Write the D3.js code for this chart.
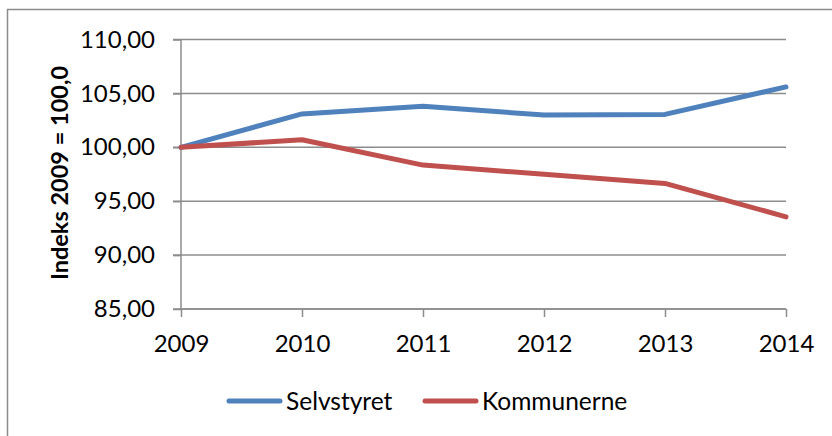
<!DOCTYPE html>
<meta charset="utf-8">
<head>
<style>
  body { margin: 0; background: #fff; }
  svg { display: block; }
  .tick text { font-family: Lato, "Open Sans", sans-serif; font-size: 24px; fill: #000; }
  .legend text { font-family: Lato, "Open Sans", sans-serif; font-size: 24.5px; fill: #000; }
  .ytitle { font-family: Lato, "Open Sans", sans-serif; font-size: 23.5px; font-weight: bold; }
</style>
</head>
<body>
<div id="chart"></div>
<script src="https://d3js.org/d3.v7.min.js"></script>
<script>
 // data
 var years = ["2009", "2010", "2011", "2012", "2013", "2014"];
 var selvstyret = [100.0, 103.1, 103.8, 103.0, 103.05, 105.6];
 var kommunerne = [100.0, 100.7, 98.35, 97.5, 96.65, 93.55];
 var yTicks = [85, 90, 95, 100, 105, 110];
 var seriesNames = ["Selvstyret", "Kommunerne"];
 var seriesColors = ["#4F81BD", "#C0504D"];

 var width = 832, height = 436;
 var plot = {left: 181, right: 786, top: 39.5, bottom: 309};

 var svg = d3.select("#chart").append("svg")
             .attr("width", width)
             .attr("height", height);

 // outer chart frame (runs off the bottom/right of the picture)
 svg.append("rect")
    .attr("x", 7.5).attr("y", 9.5)
    .attr("width", 900).attr("height", 500)
    .attr("fill", "none")
    .attr("stroke", "#8c8c8c")
    .attr("stroke-width", 1.5);

 var x = d3.scalePoint().domain(years).range([plot.left, plot.right]);
 var y = d3.scaleLinear().domain([85, 110]).range([plot.bottom, plot.top]);

 // gridlines
 svg.append("g")
    .selectAll("line")
    .data(yTicks)
    .join("line")
    .attr("x1", plot.left - 8)
    .attr("x2", plot.right)
    .attr("y1", d => y(d))
    .attr("y2", d => y(d))
    .attr("stroke", "#8c8c8c")
    .attr("stroke-width", 1.5);

 const fmt = d => d.toFixed(2).replace(".", ",");

 let yAxis = svg.append("g")
    .attr("transform", `translate(${plot.left},0)`)
    .call(d3.axisLeft(y).tickValues(yTicks).tickFormat(fmt).tickSize(8).tickPadding(18));
 yAxis.selectAll("line, path").attr("stroke", "#8c8c8c").attr("stroke-width", 1.5);
 yAxis.select(".domain").attr("d", `M0,${plot.top}V${plot.bottom}`);

 let xAxis = svg.append("g")
    .attr("transform", `translate(0,${plot.bottom})`)
    .call(d3.axisBottom(x).tickSize(8));
 xAxis.selectAll("line, path").attr("stroke", "#8c8c8c").attr("stroke-width", 1.5);
 xAxis.select(".domain").attr("d", `M${plot.left},0H${plot.right}`);
 xAxis.selectAll(".tick text").attr("y", 43).attr("dy", 0);

 svg.append("text")
    .attr("class", "ytitle")
    .attr("transform", `translate(68,173) rotate(-90)`)
    .attr("text-anchor", "middle")
    .text("Indeks 2009 = 100,0");

 var line = d3.line()
              .x((d, i) => x(years[i]))
              .y(d => y(d));

 [selvstyret, kommunerne].forEach(function(s, i) {
     svg.append("path")
        .datum(s)
        .attr("d", line)
        .attr("fill", "none")
        .attr("stroke", seriesColors[i])
        .attr("stroke-width", 5)
        .attr("stroke-linejoin", "round")
        .attr("stroke-linecap", "round");
 });

 // legend
 var legendX = [229, 425];
 var lg = svg.append("g").attr("class", "legend");
 seriesNames.forEach(function(name, i) {
     lg.append("line")
       .attr("x1", legendX[i]).attr("x2", legendX[i] + 51)
       .attr("y1", 401).attr("y2", 401)
       .attr("stroke", seriesColors[i])
       .attr("stroke-width", 5)
       .attr("stroke-linecap", "round");
     lg.append("text")
       .attr("x", legendX[i] + 57)
       .attr("y", 401)
       .attr("dy", "0.35em")
       .text(name);
 });
</script>
</body>
